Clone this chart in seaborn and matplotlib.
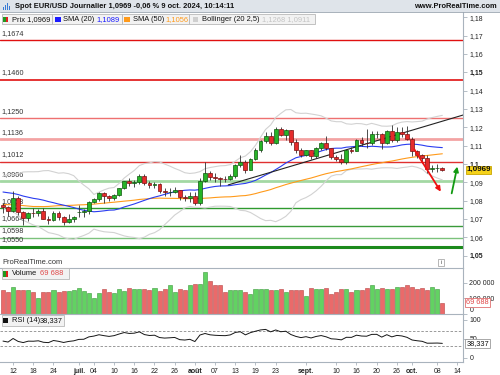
import numpy as np
import pandas as pd
import seaborn as sns
import matplotlib
matplotlib.use("Agg")
import matplotlib.pyplot as plt
import matplotlib.transforms as mtransforms
from matplotlib.patches import Rectangle

sns.set_theme(style="white")
plt.rcParams["font.family"] = ["Liberation Sans", "DejaVu Sans"]

# =====================================================
# Data (EUR/USD daily)
# =====================================================

# closes before the first visible candle (needed for SMA 50 / RSI warm-up)
earlier_closes = [
    1.0742, 1.0768, 1.0835, 1.0836, 1.0838, 1.0860, 1.0855, 1.0742, 1.0727, 1.0641,
    1.0624, 1.0617, 1.0672, 1.0644, 1.0655, 1.0655, 1.0704, 1.0697, 1.0730, 1.0693,
    1.0719, 1.0665, 1.0713, 1.0727, 1.0761, 1.0770, 1.0754, 1.0747, 1.0783, 1.0770,
    1.0790, 1.0820, 1.0885, 1.0865, 1.0870, 1.0858, 1.0855, 1.0825, 1.0818, 1.0846,
    1.0857, 1.0858, 1.0800, 1.0830, 1.0850, 1.0905, 1.0875, 1.0870, 1.0893, 1.0800,
]

opens = [
    1.0775, 1.0765, 1.0741, 1.0815, 1.0738, 1.0703, 1.0734, 1.0732, 1.0741, 1.0702,
    1.0692, 1.0733, 1.0713, 1.0683, 1.0702, 1.0737, 1.0740, 1.0743, 1.0791, 1.0809,
    1.0841, 1.0826, 1.0814, 1.0830, 1.0868, 1.0907, 1.0894, 1.0901, 1.0937, 1.0898,
    1.0884, 1.0890, 1.0854, 1.0845, 1.0850, 1.0856, 1.0822, 1.0816, 1.0826, 1.0790,
    1.0910, 1.0952, 1.0930, 1.0922, 1.0918, 1.0916, 1.0932, 1.0992, 1.1012, 1.0967,
    1.1028, 1.1077, 1.1128, 1.1152, 1.1113, 1.1192, 1.1160, 1.1183, 1.1119, 1.1077,
    1.1048, 1.1074, 1.1044, 1.1086, 1.1113, 1.1085, 1.1038, 1.1030, 1.1012, 1.1075,
    1.1073, 1.1133, 1.1116, 1.1112, 1.1163, 1.1165, 1.1112, 1.1180, 1.1133, 1.1177,
    1.1165, 1.1135, 1.1069, 1.1048, 1.1032, 1.0972, 1.0976, 1.0978,
]
highs = [
    1.0790, 1.0772, 1.0852, 1.0828, 1.0745, 1.0740, 1.0762, 1.0752, 1.0761, 1.0716,
    1.0746, 1.0741, 1.0716, 1.0725, 1.0719, 1.0776, 1.0755, 1.0800, 1.0816, 1.0845,
    1.0845, 1.0833, 1.0835, 1.0871, 1.0910, 1.0922, 1.0911, 1.0948, 1.0944, 1.0909,
    1.0902, 1.0895, 1.0869, 1.0868, 1.0872, 1.0858, 1.0833, 1.0845, 1.0847, 1.0926,
    1.1009, 1.0961, 1.0949, 1.0931, 1.0935, 1.0945, 1.1001, 1.1047, 1.1022, 1.1033,
    1.1086, 1.1133, 1.1173, 1.1174, 1.1201, 1.1202, 1.1189, 1.1187, 1.1138, 1.1089,
    1.1079, 1.1076, 1.1090, 1.1122, 1.1155, 1.1087, 1.1050, 1.1055, 1.1084, 1.1092,
    1.1137, 1.1145, 1.1189, 1.1180, 1.1180, 1.1168, 1.1187, 1.1214, 1.1202, 1.1201,
    1.1209, 1.1148, 1.1077, 1.1057, 1.1050, 1.0992, 1.1001, 1.0985,
]
lows = [
    1.0733, 1.0718, 1.0737, 1.0722, 1.0668, 1.0690, 1.0712, 1.0718, 1.0700, 1.0671,
    1.0688, 1.0697, 1.0666, 1.0677, 1.0684, 1.0710, 1.0710, 1.0727, 1.0788, 1.0798,
    1.0790, 1.0800, 1.0806, 1.0826, 1.0862, 1.0880, 1.0872, 1.0893, 1.0888, 1.0868,
    1.0870, 1.0843, 1.0826, 1.0825, 1.0843, 1.0805, 1.0800, 1.0795, 1.0777, 1.0777,
    1.0903, 1.0912, 1.0904, 1.0881, 1.0903, 1.0912, 1.0924, 1.0982, 1.0949, 1.0965,
    1.1020, 1.1068, 1.1112, 1.1101, 1.1108, 1.1152, 1.1133, 1.1102, 1.1059, 1.1039,
    1.1042, 1.1027, 1.1032, 1.1076, 1.1075, 1.1025, 1.1018, 1.1002, 1.1002, 1.1062,
    1.1070, 1.1100, 1.1085, 1.1105, 1.1140, 1.1082, 1.1107, 1.1122, 1.1120, 1.1145,
    1.1130, 1.1045, 1.1034, 1.1003, 1.0951, 1.0955, 1.0954, 1.0960,
]
closes = [
    1.0765, 1.0741, 1.0815, 1.0738, 1.0703, 1.0734, 1.0732, 1.0741, 1.0702, 1.0692,
    1.0733, 1.0713, 1.0683, 1.0702, 1.0713, 1.0740, 1.0743, 1.0791, 1.0809, 1.0841,
    1.0826, 1.0814, 1.0830, 1.0868, 1.0907, 1.0894, 1.0901, 1.0937, 1.0898, 1.0884,
    1.0890, 1.0854, 1.0845, 1.0850, 1.0856, 1.0822, 1.0816, 1.0826, 1.0790, 1.0910,
    1.0952, 1.0930, 1.0922, 1.0918, 1.0916, 1.0932, 1.0992, 1.1012, 1.0967, 1.1028,
    1.1077, 1.1128, 1.1152, 1.1113, 1.1192, 1.1160, 1.1183, 1.1119, 1.1077, 1.1048,
    1.1074, 1.1044, 1.1086, 1.1113, 1.1085, 1.1038, 1.1030, 1.1012, 1.1075, 1.1073,
    1.1133, 1.1116, 1.1112, 1.1163, 1.1165, 1.1112, 1.1180, 1.1133, 1.1177, 1.1165,
    1.1135, 1.1069, 1.1048, 1.1032, 1.0975, 1.0976, 1.0978, 1.0969,
]
volumes = [
    152000, 137000, 170000, 150000, 150000, 150000, 140000, 103000, 138000, 140000,
    152000, 140000, 146000, 146000, 150000, 164000, 146000, 133000, 103000, 133000,
    160000, 137000, 131000, 162000, 146000, 166000, 157000, 162000, 162000, 150000,
    166000, 146000, 162000, 183000, 140000, 160000, 152000, 183000, 192000, 192000,
    269000, 211000, 183000, 183000, 140000, 150000, 150000, 150000, 140000, 125000,
    160000, 160000, 160000, 152000, 152000, 162000, 137000, 152000, 152000, 152000,
    113000, 166000, 160000, 160000, 166000, 129000, 140000, 162000, 160000, 140000,
    150000, 152000, 166000, 183000, 162000, 166000, 160000, 160000, 170000, 170000,
    183000, 172000, 160000, 166000, 150000, 172000, 162000, 69688,
]

levels = [1.1674, 1.1460, 1.1250, 1.1136, 1.1012, 1.0906, 1.0758, 1.0664, 1.0598, 1.0550]
level_labels = ["1,1674", "1,1460", "1,1250", "1,1136", "1,1012",
                "1,0906", "1,0758", "1,0664", "1,0598", "1,0550"]
level_colors = ["#e01010", "#e01010", "#ee7070", "#f3a3a3", "#e03030",
                "#a3d8a3", "#2f9a2f", "#3a9a3a", "#7cc27c", "#1c8a1c"]
level_widths = [1.0, 1.2, 1.0, 2.0, 1.0, 2.0, 1.0, 1.0, 1.0, 2.2]

tick_dates = ["2024-06-12", "2024-06-18", "2024-06-24", "2024-07-01", "2024-07-04",
              "2024-07-10", "2024-07-16", "2024-07-22", "2024-07-26", "2024-08-01",
              "2024-08-07", "2024-08-13", "2024-08-19", "2024-08-23", "2024-09-02",
              "2024-09-10", "2024-09-16", "2024-09-20", "2024-09-26", "2024-10-01",
              "2024-10-08", "2024-10-14"]
tick_labels = ["12", "18", "24", "juil.", "04", "10", "16", "22", "26", "août",
               "07", "13", "19", "23", "sept.", "10", "16", "20", "26", "oct.",
               "08", "14"]
month_labels = ["juil.", "août", "sept.", "oct."]

trend_x = [44.6, 91.1]
trend_y = [1.0886, 1.1267]
red_arrow = [(81.45, 1.1080), (86.7, 1.0849)]
green_arrow = [(88.85, 1.0840), (89.96, 1.0986)]

# =====================================================
# Indicators
# =====================================================

n = len(closes)
x = np.arange(n)
all_days = pd.bdate_range("2024-06-10", "2024-10-18")
tick_pos = [all_days.get_loc(pd.Timestamp(d)) for d in tick_dates]

hist = pd.Series(earlier_closes + closes)
sma20 = hist.rolling(20).mean().iloc[-n:].to_numpy()
sma50 = hist.rolling(50).mean().iloc[-n:].to_numpy()
std20 = hist.rolling(20).std(ddof=0).iloc[-n:].to_numpy()
bb_up = sma20 + 2.5 * std20
bb_lo = sma20 - 2.5 * std20

delta = hist.diff()
gain = delta.clip(lower=0).ewm(alpha=1 / 14, adjust=False).mean()
loss = (-delta.clip(upper=0)).ewm(alpha=1 / 14, adjust=False).mean()
rsi = (100 - 100 / (1 + gain / loss)).iloc[-n:].to_numpy()

o = np.array(opens)
c = np.array(closes)
up = c >= o

# =====================================================
# Figure layout (pixel based, 500 x 375)
# =====================================================

W, H = 500, 375
fig = plt.figure(figsize=(5, 3.75), dpi=100)
fig.patch.set_facecolor("white")


def px_rect(top, bottom, left=0, right=463):
    return [left / W, 1 - bottom / H, (right - left) / W, (bottom - top) / H]


ax_p = fig.add_axes(px_rect(12, 267.5))
ax_v = fig.add_axes(px_rect(267.5, 313.5))
ax_r = fig.add_axes(px_rect(313.5, 362.3))

XLIM = (-0.594, 91.09)
AXCOL = "#a9b3bd"

for ax in (ax_p, ax_v, ax_r):
    ax.set_xlim(*XLIM)
    ax.set_facecolor("white")
    for s in ax.spines.values():
        s.set_visible(False)
    ax.spines["right"].set_visible(True)
    ax.spines["right"].set_color(AXCOL)
    ax.spines["right"].set_linewidth(0.8)
    ax.yaxis.tick_right()
    ax.tick_params(axis="y", which="both", right=True, left=False, length=3,
                   width=0.6, color=AXCOL, labelsize=5, pad=1.5, labelcolor="#222")
    ax.grid(False)

# =====================================================
# Price panel
# =====================================================

ax_p.set_ylim(1.04356, 1.18289)

for lvl, col, lw in zip(levels, level_colors, level_widths):
    ax_p.axhline(lvl, color=col, lw=lw, zorder=1)
for lvl, lbl in zip(levels, level_labels):
    ax_p.annotate(lbl, xy=(0.004, lvl), xycoords=("axes fraction", "data"),
                  xytext=(0, 2.5), textcoords="offset points", va="bottom",
                  ha="left", fontsize=5.2, color="#333", zorder=1.5)

sns.lineplot(x=x, y=bb_up, ax=ax_p, color="#d2d2d2", lw=0.8, zorder=2)
sns.lineplot(x=x, y=bb_lo, ax=ax_p, color="#d2d2d2", lw=0.8, zorder=2)
sns.lineplot(x=x, y=sma50, ax=ax_p, color="#ff9a1a", lw=0.8, zorder=2)
sns.lineplot(x=x, y=sma20, ax=ax_p, color="#2a3cf0", lw=0.8, zorder=2)
ax_p.plot(trend_x, trend_y, color="#222", lw=0.8, zorder=2.5)

ax_p.vlines(x, lows, highs, color="#303030", lw=0.6, zorder=3)
body_lo = np.minimum(o, c)
body_h = np.maximum(np.abs(c - o), 0.00006)
ax_p.bar(x[up], body_h[up], bottom=body_lo[up], width=0.76,
         color="#27b427", edgecolor="#0f560f", linewidth=0.5, zorder=3.5)
ax_p.bar(x[~up], body_h[~up], bottom=body_lo[~up], width=0.76,
         color="#e52b2b", edgecolor="#7a1010", linewidth=0.5, zorder=3.5)

for (x0, y0), (x1, y1), col in [(red_arrow[0], red_arrow[1], "#ee1111"),
                                (green_arrow[0], green_arrow[1], "#129a12")]:
    ax_p.annotate("", xy=(x1, y1), xytext=(x0, y0),
                  arrowprops=dict(arrowstyle="-|>", color=col, lw=1.3,
                                  mutation_scale=7, shrinkA=0, shrinkB=0),
                  zorder=4)

pticks = np.round(np.arange(1.05, 1.1801, 0.01), 2)
ax_p.set_yticks(pticks)
ax_p.set_yticklabels([f"{v:.2f}".rstrip("0").replace(".", ",") for v in pticks])
for t, v in zip(ax_p.get_yticklabels(), pticks):
    if round(v * 100) % 5 == 0:
        t.set_fontweight("bold")
ax_p.set_xticks([])

blend_p = mtransforms.blended_transform_factory(ax_p.transAxes, ax_p.transData)
ax_p.text(1.007, closes[-1], "1,0969", transform=blend_p, ha="left", va="center",
          fontsize=5.8, fontweight="bold", color="#111", zorder=6,
          bbox=dict(boxstyle="square,pad=0.08", fc="#f5d21a", ec="#c9a600", lw=0.6))

# =====================================================
# Volume panel
# =====================================================

vol_face = np.where(up, "#62d262", "#ea6a6a")
vol_edge = np.where(up, "#3a9a3a", "#b84444")
ax_v.bar(x, volumes, width=0.8, color=vol_face, edgecolor=vol_edge, linewidth=0.4)
ax_v.set_xlim(*XLIM)
ax_v.set_ylim(0, 298700)
ax_v.set_yticks([0, 100000, 200000])
ax_v.set_yticklabels(["0", "100 000", "200 000"])
ax_v.get_yticklabels()[0].set_va("bottom")
ax_v.set_xticks([])
ax_v.spines["top"].set_visible(True)
ax_v.spines["top"].set_color(AXCOL)
ax_v.spines["top"].set_linewidth(0.8)

blend_v = mtransforms.blended_transform_factory(ax_v.transAxes, ax_v.transData)
ax_v.text(1.007, volumes[-1], "69 688", transform=blend_v, ha="left", va="center",
          fontsize=5.3, color="#e04848", zorder=6,
          bbox=dict(boxstyle="square,pad=0.12", fc="white", ec="#e07070", lw=0.6))

# =====================================================
# RSI panel
# =====================================================

ax_r.set_ylim(-12.2, 117.2)
for lv in (70, 30):
    ax_r.axhline(lv, color="#8a8a8a", lw=0.6, ls=(0, (3, 2)), zorder=1)
sns.lineplot(x=x, y=rsi, ax=ax_r, color="#151515", lw=0.7, zorder=2)
ax_r.set_yticks([0, 50, 100])
ax_r.set_yticklabels(["0", "50", "100"])
ax_r.set_ylabel("")
for side in ("top", "bottom"):
    ax_r.spines[side].set_visible(True)
    ax_r.spines[side].set_color(AXCOL)
    ax_r.spines[side].set_linewidth(0.8)
ax_r.set_xticks(tick_pos)
ax_r.set_xticklabels(tick_labels)
ax_r.tick_params(axis="x", bottom=True, length=2.5, width=0.6, color=AXCOL,
                 labelsize=5, pad=1.5, labelcolor="#222")
for t in ax_r.get_xticklabels():
    if t.get_text() in month_labels:
        t.set_fontweight("bold")
ax_r.set_xlim(*XLIM)

blend_r = mtransforms.blended_transform_factory(ax_r.transAxes, ax_r.transData)
ax_r.text(1.007, 38.337, "38,337", transform=blend_r, ha="left", va="center",
          fontsize=5.3, color="#111", zorder=6,
          bbox=dict(boxstyle="square,pad=0.12", fc="white", ec="#9a9a9a", lw=0.6))

# =====================================================
# Header, legends and labels (overlay in pixel units)
# =====================================================

ov = fig.add_axes([0, 0, 1, 1], zorder=10)
ov.set_xlim(0, W)
ov.set_ylim(H, 0)
ov.axis("off")
ov.patch.set_alpha(0)

ov.add_patch(Rectangle((0, 0), W, 12, fc="#dfe4ea", ec="none"))
ov.plot([0, W], [12, 12], color="#9aa5b0", lw=0.6)
for bx, bh in [(2.5, 3), (4.5, 5), (6.5, 7), (8.5, 4)]:
    ov.add_patch(Rectangle((bx, 10 - bh), 1.2, bh, fc="#3a7bd5", ec="none"))
ov.text(15, 6.4, "Spot EUR/USD Journalier 1,0969 -0,06 % 9 oct. 2024, 10:14:11",
        fontsize=5.4, fontweight="bold", color="#111", va="center", ha="left")
ov.text(497, 6.4, "www.ProRealTime.com", fontsize=5.4, fontweight="bold",
        color="#111", va="center", ha="right")


def legend_box(x0, x1, y0, y1):
    ov.add_patch(Rectangle((x0, y0), x1 - x0, y1 - y0, fc="#f2f2f2", ec="#b8b8b8", lw=0.6))


def two_tone(x0, y0, w, h):
    ov.add_patch(Rectangle((x0, y0), w / 2, h, fc="#1f9a1f", ec="none"))
    ov.add_patch(Rectangle((x0 + w / 2, y0), w / 2, h, fc="#e02020", ec="none"))


# price legend
legend_box(1.7, 52.3, 14, 24)
two_tone(3.3, 16.5, 5, 5.5)
ov.text(11.5, 19.3, "Prix 1,0969", fontsize=5.4, color="#111", va="center")
legend_box(52.3, 121.7, 14, 24)
ov.add_patch(Rectangle((55, 16.5), 5.5, 5.5, fc="#1a1aff", ec="none"))
ov.text(63.3, 19.3, "SMA (20)", fontsize=5.4, color="#111", va="center")
ov.text(96.7, 19.3, "1,1089", fontsize=5.4, color="#1a1aff", va="center")
legend_box(121.7, 189, 14, 24)
ov.add_patch(Rectangle((124, 16.5), 5.5, 5.5, fc="#ff9a1a", ec="none"))
ov.text(132.7, 19.3, "SMA (50)", fontsize=5.4, color="#111", va="center")
ov.text(165.7, 19.3, "1,1056", fontsize=5.4, color="#ff9a1a", va="center")
legend_box(189, 315, 14, 24)
ov.add_patch(Rectangle((192.7, 16.5), 5.5, 5.5, fc="#cfcfcf", ec="none"))
ov.text(201.7, 19.3, "Bollinger (20 2,5)", fontsize=5.4, color="#111", va="center")
ov.text(262.3, 19.3, "1,1268 1,0911", fontsize=5.4, color="#c4c4c4", va="center")

# bottom of price panel
ov.text(2, 263, "ProRealTime.com", fontsize=5.4, color="#333", va="center")
ov.add_patch(Rectangle((438, 258.5), 6, 7, fc="white", ec="#9a9a9a", lw=0.5))
ov.text(441, 262, "i", fontsize=4.5, color="#555", va="center", ha="center")

# volume legend
legend_box(1.7, 69, 267.7, 279)
two_tone(3.3, 270.5, 5, 6)
ov.text(11.7, 273.5, "Volume", fontsize=5.4, color="#111", va="center")
ov.text(40, 273.5, "69 688", fontsize=5.4, color="#e04848", va="center")

# RSI legend
legend_box(1.7, 64, 314.5, 325.7)
ov.add_patch(Rectangle((3.3, 317.5), 5, 5.5, fc="#111", ec="none"))
ov.text(11.7, 320.2, "RSI (14)", fontsize=5.4, color="#111", va="center")
ov.text(40, 320.2, "38,337", fontsize=5.4, color="#111", va="center")

fig.savefig("out.png", dpi=100)
plt.close(fig)
